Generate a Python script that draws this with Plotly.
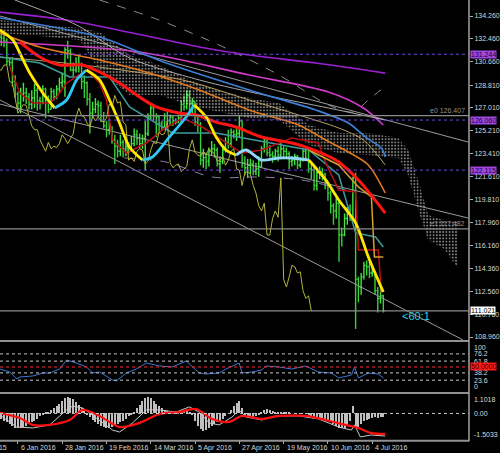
import plotly.graph_objects as go

# ---------------- data ----------------
first_open = 132.6
closes = [132.5,132.3,130.7,130.6,129.1,128.1,127.4,128.1,128.2,127.9,
          127.3,127.8,128.4,127.6,127.5,128.5,127.6,126.9,128.3,127.9,
          128.5,129.0,129.1,131.6,131.5,130.0,130.0,130.4,130.4,129.1,
          129.0,127.7,126.6,126.9,127.3,127.2,126.4,125.6,125.3,125.3,
          124.5,124.0,123.6,124.3,123.8,124.0,123.9,124.2,124.9,124.6,
          124.2,124.6,125.0,126.3,127.0,126.4,126.3,125.8,125.5,126.4,
          126.0,126.3,126.0,125.9,126.2,127.3,127.1,128.0,127.4,127.5,
          125.9,125.7,122.9,123.1,122.8,123.6,123.8,123.7,122.6,122.8,
          123.7,124.3,124.2,125.1,124.9,125.0,126.0,122.7,122.3,122.5,
          122.6,122.0,122.2,122.4,123.8,124.5,123.5,123.3,123.2,123.6,
          123.3,123.8,123.6,123.4,122.8,122.9,123.2,122.5,122.9,123.6,
          123.8,122.2,122.1,120.9,121.9,122.0,121.8,120.9,120.3,119.3,
          118.9,119.5,117.0,117.0,118.3,118.9,118.4,121.5,113.5,112.9,
          113.7,114.6,114.5,114.0,114.1,112.6,112.0,112.2,111.0]
highs = [133.0,132.9,132.5,130.9,131.0,129.6,128.3,128.6,129.0,128.6,
         128.2,128.4,128.9,128.6,127.9,128.8,128.6,128.0,128.6,128.5,
         128.8,129.4,129.8,131.8,132.3,131.7,130.6,131.0,131.2,130.6,
         129.6,129.1,128.2,127.5,127.8,127.6,127.5,126.7,126.0,126.1,
         125.6,124.9,124.5,124.9,124.5,124.6,124.3,124.8,125.4,125.3,
         125.0,124.9,126.0,126.6,127.4,127.2,126.6,126.4,126.0,126.6,
         126.7,126.5,126.4,126.2,126.5,127.6,128.0,128.4,128.4,127.8,
         127.5,126.4,125.9,123.8,123.5,123.9,124.4,124.2,123.9,123.2,
         124.0,124.7,125.3,125.4,125.3,125.4,126.4,126.0,123.2,123.0,
         123.0,122.9,122.7,123.2,124.0,124.7,124.5,124.1,123.6,123.8,
         124.0,124.4,124.0,123.9,123.6,123.2,123.4,123.3,123.1,123.8,
         124.0,123.9,122.6,122.5,122.1,122.4,122.3,121.9,121.1,120.5,
         119.5,119.9,119.6,117.6,118.7,119.2,119.4,121.6,121.9,113.7,
         114.0,114.9,115.0,114.9,114.6,114.1,112.9,112.8,112.3]
lows = [131.9,131.8,130.4,130.3,128.7,127.8,126.9,126.6,127.5,127.3,
        126.9,126.9,127.0,126.8,126.9,127.3,126.2,126.6,126.9,127.6,
        127.7,128.2,128.6,127.9,130.9,129.9,129.5,129.8,129.8,128.5,
        127.8,127.2,125.0,126.2,126.6,126.3,125.9,125.4,124.7,124.9,
        124.2,122.6,123.1,123.2,123.1,123.2,123.4,123.6,124.0,124.1,
        123.8,123.8,122.1,124.8,126.1,126.0,124.7,125.1,125.2,125.4,
        125.7,125.6,125.6,125.7,125.8,125.9,126.8,126.9,126.7,126.5,
        125.6,125.1,122.5,122.3,122.2,122.4,123.3,123.1,122.4,121.9,
        122.6,123.5,123.8,123.9,124.6,124.4,124.7,122.3,121.7,121.5,
        121.8,121.7,121.7,121.6,122.3,123.5,123.2,123.1,122.7,122.9,
        122.8,123.0,123.0,123.1,122.2,122.4,122.5,122.2,122.3,122.8,
        123.0,121.9,121.4,120.5,120.5,121.4,121.3,120.6,119.7,118.7,
        117.8,118.3,114.9,116.1,116.9,117.8,118.1,118.3,109.6,111.7,
        112.3,113.5,113.8,113.6,113.7,112.3,110.9,111.6,110.9]
chikou_shift = 26

# indicator lines: (bar, price) waypoints
yellow_x = [-0.5,4.2,6.7,10.3,15.0,19.3,23.6,27.2,30.8,35.5,39.1,42.7,46.3,51.0,54.6,60.7,
            66.8,69.7,74.0,77.6,81.2,84.8,88.4,94.1,100.3,104.9,111.1,117.2,121.9,128.0,132.6,138.0]
yellow_y = [133.16,132.37,131.34,129.77,128.19,127.01,127.64,129.22,130.00,129.22,127.64,125.83,
            123.94,122.91,123.15,124.72,126.30,127.25,126.30,124.72,123.70,123.30,123.70,122.91,
            123.07,123.07,122.91,121.34,119.76,117.95,115.27,112.51]
yellow_turns = [0, 5, 8, 13, 17, 21, 26, 31]
yellow_colors = ['#ffe800', '#2ec8f5', '#ffe800', '#2ec8f5', '#ffe800', '#8fd8f8', '#ffe800']

red_x = [6.7,13.9,21.1,29.4,35.5,42.7,49.9,56.0,64.3,70.4,77.6,84.8,94.1,105.0,111.1,120.8,129.0,138.7]
red_y = [132.21,131.03,130.40,130.40,129.85,128.98,127.88,127.09,126.61,126.46,125.90,125.51,
         124.72,124.25,123.85,122.91,121.34,118.73]

purple_x = [-0.5,23.6,47.4,71.5,89.5,113.6,138.7]
purple_y = [134.57,133.94,132.92,131.82,131.18,130.55,129.76]
magenta_x = [-0.5,49.9,89.5,118.2,130.8,138.0]
magenta_y = [132.21,131.42,129.61,128.27,127.01,125.67]
blue_x = [-0.5,35.5,59.6,89.5,113.6,125.4,131.6,137.3,138.7]
blue_y = [134.10,132.60,130.55,128.43,126.85,125.83,124.72,123.85,123.15]
grayma_x = [4.9,27.2,46.3,71.5,96.7,118.2,138.7]
grayma_y = [135.52,133.55,130.95,129.22,127.95,127.01,126.06]
orange_x = [-0.5,13.9,35.5,53.5,71.5,89.5,107.4,117.2,125.4,132.6,138.7]
orange_y = [132.92,131.82,130.79,129.77,128.43,126.85,125.67,124.49,123.54,122.52,120.31]
tan_x = [-0.5,29.4,65.4,89.5,107.4,121.9,130.8,138.7]
tan_y = [131.03,130.40,129.22,127.64,126.46,125.43,124.49,122.52]
darkred_x = [3.1,6.7,11.4,17.5,20.0,23.6,30.8,35.5,38.0,40.2,45.2,52.4,58.2,65.4,72.6,79.8,86.9,
             94.1,105.0,114.6,117.2,121.9,128.0,129.0,136.2,137.3]
darkred_y = [130.24,128.19,127.40,127.40,127.88,128.98,130.00,128.98,127.64,124.49,123.46,124.25,
             125.28,126.22,125.51,124.49,123.46,123.70,124.65,124.25,122.68,120.55,120.39,115.82,
             115.82,112.43]
teal_x = [-0.5,13.9,24.7,39.1,46.3,61.8,77.6,96.7,111.1,121.9,128.0,135.2,138.0]
teal_y = [131.03,130.55,129.45,129.45,127.09,125.04,125.04,124.25,123.70,121.73,117.16,116.84,116.05]
gold_x = [111.1,121.9,129.0,133.7,134.8,138.0]
gold_y = [123.70,122.52,120.79,120.00,115.27,115.27]
upperdash_x = [35.5,57.1,78.7,100.3,118.2,127.2,132.6,138.0]
upperdash_y = [135.52,133.94,131.97,129.61,127.25,126.69,127.64,128.59]
lowerdash_x = [44.5,59.6,76.2,93.1,108.5,124.4]
lowerdash_y = [123.07,122.75,121.57,121.57,121.34,120.55]

cloud_x = [-0.5,13.9,28.3,35.5,46.3,57.1,67.9,78.7,89.5,100.3,111.1,121.9,132.6,143.4,147.0,150.6,154.2,159.6,165.0]
cloud_top = [133.94,133.55,133.31,133.00,131.19,130.40,129.22,128.43,127.80,127.40,125.67,125.04,
             125.04,124.65,123.70,121.34,118.58,118.18,118.03]
cloud_bot = [132.92,132.68,132.37,129.90,128.03,128.03,127.25,126.69,126.22,126.06,124.09,123.46,
             123.30,123.07,121.73,118.97,116.61,115.98,114.40]

trend_lines = [([-0.5, 168.6], [134.26, 124.33]),
               ([-0.5, 168.6], [127.32, 118.34]),
               ([-0.5, 166.8], [127.64, 108.73])]

level_lines = [131.244, 126.060, 122.115]
gray_hlines = [126.407, 117.482, 111.021]
last_price = 111.021

price_ticks = [134.260,132.460,130.660,128.810,127.010,125.210,123.410,121.610,
               119.810,117.960,116.160,114.360,112.560,110.760,108.960]

rsi_x = [-0.5,3.1,5.6,6.7,11.4,15.0,17.5,21.1,23.6,27.2,30.8,33.0,35.5,40.2,41.6,45.2,48.8,52.4,
         57.1,61.8,66.8,71.5,74.0,78.7,81.2,85.9,87.0,90.5,94.1,95.6,100.3,104.9,110.0,112.1,
         114.6,119.3,121.9,126.5,127.6,129.0,132.6,136.2,138.0]
rsi_y = [46,40,26,30,32,38,38,46,64,58,50,38,40,24,22,38,46,58,52,50,62,38,36,38,46,58,38,40,
         44,52,50,46,52,46,40,38,28,34,50,28,38,36,28]
rsi_levels = [76.2, 61.8, 38.2, 23.6]

macd_hist = [-0.3,-0.4,-0.5,-0.6,-0.7,-0.8,-0.8,-0.8,-0.75,-0.7,-0.6,-0.5,
             -0.4,-0.3,-0.15,-0.05,
             0.05,0.1,0.2,0.3,0.4,
             0.55,0.7,0.85,0.95,0.9,
             0.8,0.65,0.5,0.3,0.15,
             -0.05,-0.2,-0.35,-0.5,-0.6,
             -0.7,-0.75,-0.8,-0.8,-0.75,-0.7,-0.6,-0.5,-0.4,
             -0.3,-0.15,-0.05,0.1,
             0.3,0.5,0.7,0.85,0.95,0.85,
             0.7,0.55,0.4,0.3,0.2,0.15,
             0.1,0.1,0.15,0.1,0.15,0.2,0.25,
             0.1,-0.1,-0.4,-0.7,-0.9,
             -1.0,-0.95,-0.85,-0.7,-0.6,-0.5,
             -0.4,-0.3,-0.15,0.0,0.2,
             0.4,0.6,0.7,
             0.3,-0.1,-0.2,-0.25,-0.2,-0.15,
             -0.05,0.05,0.2,0.25,0.2,0.15,
             0.1,0.1,0.08,0.05,0.05,0.03,0.0,-0.02,0.0,0.02,0.0,-0.03,
             -0.1,-0.15,-0.2,-0.2,-0.25,-0.3,-0.35,-0.4,-0.5,-0.6,-0.7,
             -0.8,-0.85,-0.8,-0.7,-0.4,0.45,
             -0.85,-0.8,-0.6,-0.45,-0.35,-0.3,
             -0.25,-0.2,-0.25,-0.2,-0.2]
macd_red_x = [-0.5,6.7,11.4,17.5,24.7,29.4,35.5,42.7,49.9,57.1,64.3,70.4,76.2,82.3,87.0,94.1,
              100.3,110.0,117.2,124.4,129.0,133.7,138.7]
macd_red_y = [0.03,-0.26,-0.65,-0.65,-0.37,0.20,-0.14,-0.77,-0.54,-0.03,0.08,0.25,-0.31,-0.48,
              -0.14,-0.31,-0.14,-0.14,-0.37,-0.65,-0.82,-1.11,-1.16]
macd_gray_x = [-0.5,5.6,11.4,17.5,23.6,25.8,29.4,35.5,40.2,42.7,47.4,52.4,57.1,63.2,67.9,71.5,
               75.1,78.7,83.4,85.9,88.4,94.1,99.2,107.4,114.6,121.9,126.5,127.6,129.7,133.7,138.7]
macd_gray_y = [-0.09,-0.77,-0.82,-0.65,0.20,0.42,0.31,-0.37,-0.94,-1.05,-0.54,0.20,0.20,0.08,
               0.37,0.08,-0.54,-0.65,-0.20,0.20,-0.20,-0.37,-0.14,-0.14,-0.31,-0.77,-0.94,-0.65,
               -1.33,-1.22,-1.28]
macd_max, macd_min = 1.1018, -1.5033

date_bars = [6, 22, 38, 54, 70, 86, 102, 118, 134]
date_labels = ['6 Jan 2016', '28 Jan 2016', '19 Feb 2016', '14 Mar 2016', '5 Apr 2016',
               '27 Apr 2016', '19 May 2016', '10 Jun 2016', '4 Jul 2016']
first_label = '14 Dec 2015'

# ---------------- figure ----------------
FONT = 'Liberation Sans'
bars = list(range(len(closes)))
opens = [first_open] + closes[:-1]
fig = go.Figure()

def line(x, y, color, width=1, dash=None, shape='spline', yaxis='y'):
    fig.add_trace(go.Scatter(x=x, y=y, mode='lines', yaxis=yaxis, hoverinfo='skip',
                             line=dict(color=color, width=width, dash=dash, shape=shape,
                                       smoothing=0.8 if shape == 'spline' else None),
                             showlegend=False))

# Ichimoku-style dotted cloud
fig.add_trace(go.Scatter(x=cloud_x, y=cloud_top, mode='lines', line=dict(width=0),
                         hoverinfo='skip', showlegend=False))
fig.add_trace(go.Scatter(x=cloud_x, y=cloud_bot, mode='lines', line=dict(width=0),
                         fill='tonexty', fillcolor='rgba(0,0,0,0)',
                         fillpattern=dict(shape='.', fgcolor='#ffffff', bgcolor='rgba(0,0,0,0)',
                                          size=3.2, solidity=0.32),
                         hoverinfo='skip', showlegend=False))

for tx, ty in trend_lines:
    line(tx, ty, '#9a9a9a', 1, shape='linear')

line(upperdash_x, upperdash_y, '#8c8c8c', 1, dash='dash')
line(lowerdash_x, lowerdash_y, '#8a80aa', 1, dash='dash')
line(purple_x, purple_y, '#9a20d0', 1.6)
line(magenta_x, magenta_y, '#d03cc8', 1.6)
line(grayma_x, grayma_y, '#a8a8a8', 1)
line(blue_x, blue_y, '#3c7fd6', 1.6)
line(tan_x, tan_y, '#b8a060', 1)
line(orange_x, orange_y, '#e07a22', 1.6)
line(teal_x, teal_y, '#3c9c9c', 1.5, shape='linear')
line(darkred_x, darkred_y, '#b81010', 1.5, shape='linear')
line(gold_x, gold_y, '#d4a030', 1.5, shape='linear')

# Chikou (close shifted back)
line([b - chikou_shift for b in bars], closes, '#b4b43c', 1, shape='linear')

# price bars
fig.add_trace(go.Ohlc(x=bars, open=opens, high=highs, low=lows, close=closes,
                      increasing=dict(line=dict(color='#44e444', width=1.4)),
                      decreasing=dict(line=dict(color='#38d038', width=1.4)),
                      tickwidth=0.45, hoverinfo='skip', showlegend=False))

line(red_x, red_y, '#ff1414', 3)
for i in range(len(yellow_turns) - 1):
    a, b = yellow_turns[i], yellow_turns[i + 1]
    line(yellow_x[a:b + 1], yellow_y[a:b + 1], yellow_colors[i], 2.8)

# RSI panel
line(rsi_x, rsi_y, '#3c78d8', 1, shape='linear', yaxis='y2')

# MACD panel
fig.add_trace(go.Bar(x=bars, y=macd_hist, yaxis='y3', width=0.38, marker=dict(color='#c0c0c0', line=dict(width=0)),
                     hoverinfo='skip', showlegend=False))
line(macd_gray_x, macd_gray_y, '#c8c8c8', 1, shape='linear', yaxis='y3')
line(macd_red_x, macd_red_y, '#ff1010', 2.2, yaxis='y3')

shapes = []
for lv in level_lines:
    shapes.append(dict(type='line', xref='paper', x0=0, x1=1, yref='y', y0=lv, y1=lv,
                       line=dict(color='#7048d8', width=1, dash='dot')))
for lv in gray_hlines:
    shapes.append(dict(type='line', xref='paper', x0=0, x1=1, yref='y', y0=lv, y1=lv,
                       line=dict(color='#8c8c8c', width=1.2)))
for lv in rsi_levels:
    shapes.append(dict(type='line', xref='paper', x0=0, x1=1, yref='y2', y0=lv, y1=lv,
                       line=dict(color='#c8c8c8', width=1, dash='dot')))
shapes.append(dict(type='line', xref='paper', x0=0, x1=1, yref='y2', y0=50, y1=50,
                   line=dict(color='#ff2a2a', width=1, dash='dot')))
shapes.append(dict(type='line', xref='paper', x0=0, x1=1, yref='y3', y0=0, y1=0,
                   line=dict(color='#c8c8c8', width=1, dash='dot')))
# panel separators and axis line
for py in [0.2250, 0.1068, -0.0015]:
    shapes.append(dict(type='line', xref='paper', x0=0, x1=1, yref='paper', y0=py, y1=py,
                       line=dict(color='#909090', width=2)))
shapes.append(dict(type='line', xref='paper', x0=1, x1=1, yref='paper', y0=-0.003, y1=1,
                   line=dict(color='#a0a0a0', width=1.5)))

ann = []
def box(text, y, yref, bg, fg):
    ann.append(dict(text=text, xref='paper', x=1, xanchor='left', xshift=1, yref=yref, y=y,
                    yanchor='middle', showarrow=False, bgcolor=bg, borderpad=0,
                    font=dict(family=FONT, size=7, color=fg)))
def lab(text, y, yref, yanchor='middle'):
    ann.append(dict(text=text, xref='paper', x=1, xanchor='left', xshift=3, yref=yref, y=y,
                    yanchor=yanchor, showarrow=False,
                    font=dict(family=FONT, size=7, color='#d8d8d8')))

for lv in level_lines:
    box(f'{lv:.3f}', lv, 'y', '#a048e0', '#1a0030')
box(f'{last_price:.3f}', last_price, 'y', '#ffffff', '#000000')
ann.append(dict(text='e0 126.407', xref='paper', x=1, xanchor='right', xshift=-2, yref='y', y=126.407,
                yanchor='bottom', showarrow=False, font=dict(family=FONT, size=7, color='#909090')))
ann.append(dict(text='e1 117.482', xref='paper', x=1, xanchor='right', xshift=-2, yref='y', y=117.482,
                yanchor='bottom', showarrow=False, font=dict(family=FONT, size=7, color='#909090')))
ann.append(dict(text='<60:1', xref='x', x=144.0, xanchor='left', yref='y', y=110.6, yanchor='middle',
                showarrow=False, font=dict(family=FONT, size=11, color='#28d4e8')))

lab('100', 100, 'y2', 'top')
lab('76.2', 76.2, 'y2')
lab('61.8', 61.8, 'y2')
lab('38.2', 38.2, 'y2')
lab('23.6', 23.6, 'y2')
lab('0', 0, 'y2', 'bottom')
box('50.0000', 50, 'y2', '#ff1a1a', '#400000')
lab(f'{macd_max:.4f}', macd_max, 'y3', 'top')
lab('0.00', 0, 'y3')
lab(f'{macd_min:.4f}', macd_min, 'y3', 'bottom')

for b, t in zip(date_bars, date_labels):
    ann.append(dict(text=t, xref='x', x=b, xanchor='left', xshift=1, yref='paper', y=0, yanchor='top',
                    yshift=-2, showarrow=False, font=dict(family=FONT, size=7, color='#d8d8d8')))
ann.append(dict(text=first_label, xref='paper', x=9 / 471, xanchor='right', yref='paper', y=0,
                yanchor='top', yshift=-2, showarrow=False, font=dict(family=FONT, size=7, color='#d8d8d8')))

fig.update_layout(
    width=500, height=453, margin=dict(l=0, r=29, t=0, b=13),
    paper_bgcolor='#000000', plot_bgcolor='#000000', showlegend=False, bargap=0,
    font=dict(family=FONT, size=7, color='#d8d8d8'),
    xaxis=dict(range=[-0.468, 168.96], anchor='y3', showgrid=False, zeroline=False, showline=False,
               tickvals=date_bars, ticks='outside', ticklen=3, tickcolor='#b0b0b0',
               showticklabels=False, rangeslider=dict(visible=False), fixedrange=True),
    yaxis=dict(domain=[0.22727, 1], range=[108.724, 135.521], side='right', anchor='x',
               showgrid=False, zeroline=False, showline=False,
               tickvals=price_ticks, ticktext=[f'{v:.3f}' for v in price_ticks],
               ticks='outside', ticklen=3, tickcolor='#b0b0b0',
               tickfont=dict(family=FONT, size=7, color='#d8d8d8')),
    yaxis2=dict(domain=[0.10909, 0.22273], range=[0, 100], anchor='x', showgrid=False,
                zeroline=False, showticklabels=False),
    yaxis3=dict(domain=[0, 0.10455], range=[macd_min, macd_max], anchor='x', showgrid=False,
                zeroline=False, showticklabels=False),
    shapes=shapes, annotations=ann,
)

fig.write_html('out.html', config={'displayModeBar': False},
               post_script="document.body.style.margin='0';document.body.style.background='#000';")
